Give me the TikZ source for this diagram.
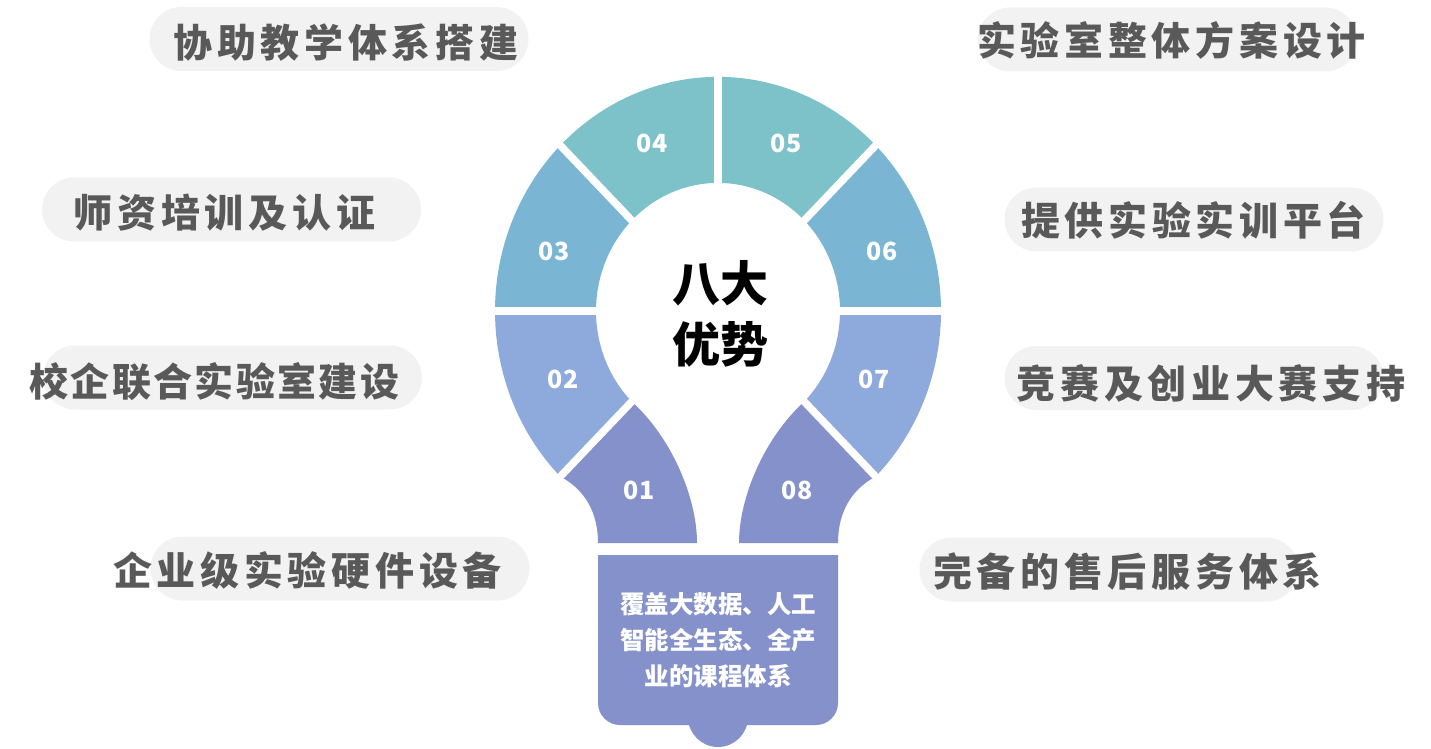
\documentclass[tikz,border=0pt]{standalone}
\usepackage{fontspec}
\newfontfamily\cjk{Noto Sans CJK SC}
\definecolor{segA}{HTML}{7CC2C8}
\definecolor{segB}{HTML}{7AB6D4}
\definecolor{segC}{HTML}{8EA9DB}
\definecolor{segD}{HTML}{8591CA}
\definecolor{pillgray}{HTML}{F2F2F2}
\definecolor{tagtext}{HTML}{595959}
\begin{document}
\begin{tikzpicture}[
    x=1pt, y=1pt,
    pill/.style ={
        rectangle,
        rounded corners=32pt,
        fill=pillgray,
        minimum width=379pt,
        minimum height=64pt
    },
    tag/.style ={
        inner sep=0pt,
        text=tagtext,
        font=\cjk\bfseries\fontsize{39}{42}\selectfont
    },
    num/.style ={
        inner sep=0pt,
        white,
        font=\cjk\bfseries\fontsize{25}{28}\selectfont
    },
    gap/.style ={
        white,
        line width=7.5pt
    }
    ]
    \useasboundingbox (0,0) rectangle (1431,748);

    % pills round the bulb
    \foreach \x/ \pos/ \tpos/ \ls/ \txt in {
        {1/(339,709)/(346,705)/12/协助教学体系搭建},
        {2/(231.5,538.5)/(224.5,535)/12/师资培训及认证},
        {3/(232.5,370.5)/(214.5,366)/6/校企联合实验室建设},
        {4/(340,179.5)/(307.5,178)/12/企业级实验硬件设备},
        {5/(1167.5,708.5)/(1171.5,708)/12/实验室整体方案设计},
        {6/(1194,528.5)/(1193.5,528)/12/提供实验实训平台},
        {7/(1194,370)/(1211,365)/12/竞赛及创业大赛支持},
        {8/(1109,178.5)/(1127.5,176)/12/完备的售后服务体系}}
    {
        \node[pill] (p\x) at \pos {};
        \node[tag] (t\x) at \tpos {\addfontfeature{LetterSpace=\ls}\txt};
    }

    % bulb
    \begin{scope}[shift={(718,437)}, yscale=1.05]
        \foreach \a/ \b/ \col in {180/135/segB, 135/90/segA, 90/45/segA, 45/0/segB,
                                  180/225/segC, 0/-45/segC}
            \fill[\col] (\a:223pt) arc[start angle=\a, end angle=\b, radius=223pt]
                -- (\b:122pt) arc[start angle=\b, end angle=\a, radius=122pt] -- cycle;
        \fill[segD] (225:223pt) .. controls (-133,-170) and (-120,-192) .. (-120,-221)
            -- (-21,-221) .. controls (-21,-178) and (-46,-121) .. (225:122pt) -- cycle;
        \begin{scope}[xscale=-1]
            \fill[segD] (225:223pt) .. controls (-133,-170) and (-120,-192) .. (-120,-221)
                -- (-21,-221) .. controls (-21,-178) and (-46,-121) .. (225:122pt) -- cycle;
        \end{scope}
        \foreach \a in {0,45,90,135,180,225,315}
            \draw[gap] (\a:110pt) -- (\a:235pt);

        \foreach \k/ \px/ \py in {01/-79/-171, 02/-155/-65, 03/-164/57, 04/-66/160,
                                  05/68/160, 06/164/57, 07/156/-65, 08/79/-171}
            \node[num] (n\k) at (\px,\py) {\k};

        \node[inner sep=0pt, align=center, font=\cjk\bfseries\fontsize{48}{61}\selectfont]
            (title) at (2,-3) {八大\\优势};
    \end{scope}

    % base of the bulb
    \fill[segD, rounded corners=22pt] (598,110) -- (598,23) -- (838,23) -- (838,110)
        [sharp corners] -- (838,193) -- (598,193) -- cycle;
    \fill[segD] (718,31) circle[radius=30pt];
    \node[inner sep=0pt, align=center, white, font=\cjk\bfseries\fontsize{24.5}{36}\selectfont]
        (course) at (718,108) {覆盖大数据、人工\\智能全生态、全产\\业的课程体系};

\end{tikzpicture}
\end{document}
